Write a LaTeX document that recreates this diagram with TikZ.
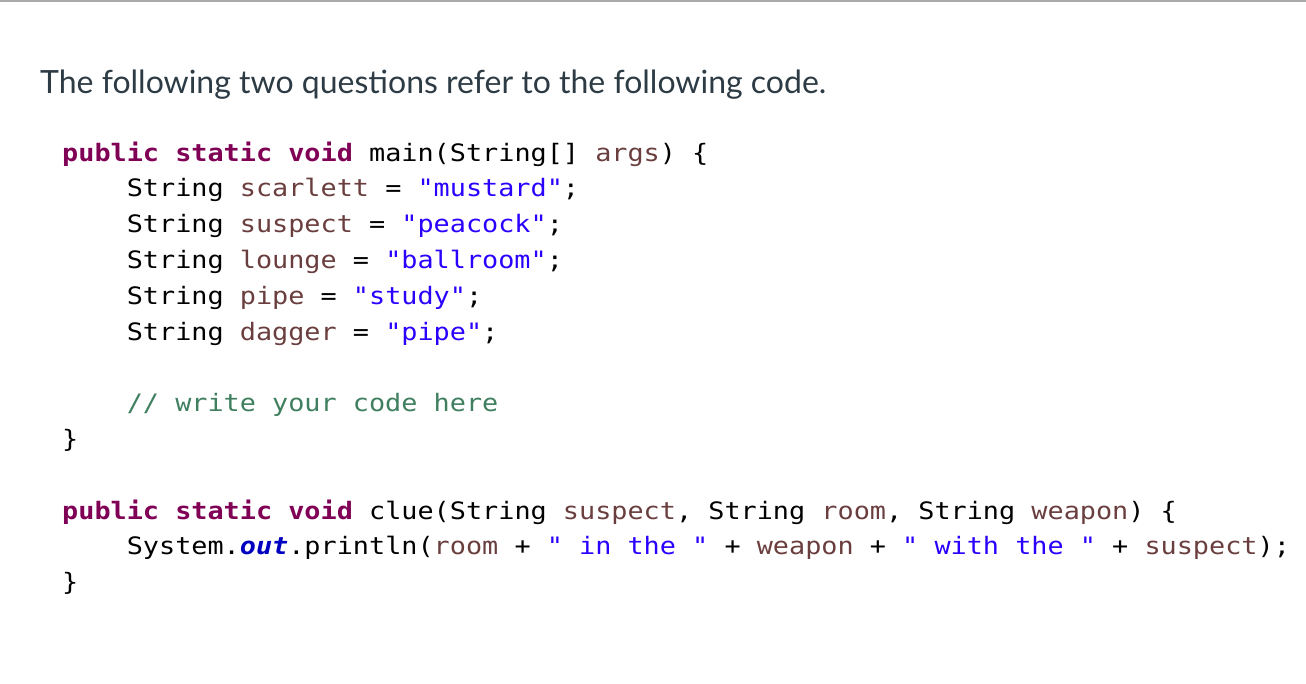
\documentclass[tikz,border=0pt]{standalone}
\usepackage{fontspec}
\setmainfont{Lato}
\setmonofont[FakeStretch=1.118]{DejaVu Sans Mono}
\definecolor{headcol}{HTML}{2D3B45}
\definecolor{topgray}{HTML}{A9A9A9}
\definecolor{kwcol}{HTML}{7F0055}
\definecolor{varcol}{HTML}{6A3E3E}
\definecolor{strcol}{HTML}{2A00FF}
\definecolor{cmtcol}{HTML}{3F7F5F}
\definecolor{outcol}{HTML}{0000C0}
\newcommand{\codekw}[1]{{\bfseries\color{kwcol}#1}}
\newcommand{\codevar}[1]{{\color{varcol}#1}}
\newcommand{\codestr}[1]{{\color{strcol}#1}}
\newcommand{\codecmt}[1]{{\color{cmtcol}#1}}
\newcommand{\codeout}[1]{{\bfseries\itshape\color{outcol}#1}}
\begin{document}
\begin{tikzpicture}[x=1pt,y=-1pt,
	code/.style={anchor=base west,inner sep=0pt,font=\ttfamily\fontsize{24}{24}\selectfont}]
	\useasboundingbox (0,0) rectangle (1306,683);
	\fill[topgray] (0,0) rectangle (1306,2);	%top rule

	\node[anchor=base west,inner sep=0pt,text=headcol,font=\fontsize{32}{32}\selectfont] (head) at (40,93.3) {The following two questions refer to the following code.};

	%MAIN
	\node[code] (mainhead) at (62,161) {\codekw{public static void} main(String[] \codevar{args}) \{};
	\foreach \v/\s [count=\i] in {scarlett/mustard,suspect/peacock,lounge/ballroom,pipe/study,dagger/pipe}
	\node[code] (decl\i) at (126.6,161+35.8*\i) {String \codevar{\v} = \codestr{"\s"};};
	\node[code] (comment) at (126.6,161+35.8*7) {\codecmt{// write your code here}};
	\node[code] (mainend) at (62,161+35.8*8) {\}};

	%CLUE
	\node[code] (cluehead) at (62,161+35.8*10) {\codekw{public static void} clue(String \codevar{suspect}, String \codevar{room}, String \codevar{weapon}) \{};
	\node[code] (print) at (126.6,161+35.8*11) {System.\codeout{out}.println(\codevar{room} + \codestr{" in the "} + \codevar{weapon} + \codestr{" with the "} + \codevar{suspect});};
	\node[code] (clueend) at (62,161+35.8*12) {\}};
	%\draw[help lines,red] (0,0) grid[step=50] (1306,683);
\end{tikzpicture}
\end{document}
